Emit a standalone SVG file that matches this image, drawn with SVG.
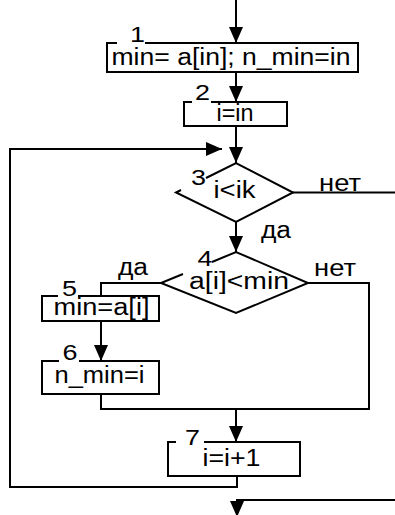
<svg xmlns="http://www.w3.org/2000/svg" width="395" height="515" viewBox="0 0 395 515">
<style>
.s{fill:none;stroke:#000;stroke-width:2}
.t{font-family:"Liberation Sans",Arial,sans-serif;font-size:23px;fill:#000}
.n{font-family:"Liberation Sans",Arial,sans-serif;font-size:22px;fill:#000}
.a{marker-end:url(#ah)}
</style>
<defs>
<marker id="ah" viewBox="0 0 16 14" refX="16" refY="7" markerWidth="16" markerHeight="14" orient="auto" markerUnits="userSpaceOnUse">
<path d="M0,0 L16,7 L0,14 z" fill="#000"/>
</marker>
</defs>
<rect width="395" height="515" fill="#fff"/>
<g id="connectors">
<path class="s a" d="M236,0 V43"/>
<path class="s a" d="M236,72 V102"/>
<path class="s a" d="M236,126 V163"/>
<path class="s a" d="M236,222 V252"/>
<path class="s" d="M161,283 H101 V296"/>
<path class="s a" d="M101,321 V361"/>
<path class="s" d="M101,394 V409 H369 V283 H308"/>
<path class="s a" d="M236,409 V442"/>
<path class="s a" d="M237,476 V487 H10 V149 H222"/>
<path class="s" d="M293,192.5 H395"/>
<path class="s a" d="M395,500 H237 V517"/>
<text class="t" x="319" y="191" textLength="42" lengthAdjust="spacingAndGlyphs">нет</text>
<text class="t" x="261" y="238" textLength="30" lengthAdjust="spacingAndGlyphs">да</text>
<text class="t" x="314" y="276" textLength="42" lengthAdjust="spacingAndGlyphs">нет</text>
<text class="t" x="118" y="275" textLength="30" lengthAdjust="spacingAndGlyphs">да</text>
</g>
<g id="node1">
<path class="s" d="M117,43 H107 V72 H358 V43 H145"/>
<text class="n" x="130" y="42" textLength="15" lengthAdjust="spacingAndGlyphs">1</text>
<text class="t" x="111.5" y="65" textLength="239" lengthAdjust="spacingAndGlyphs">min= a[in]; n_min=in</text>
</g>
<g id="node2">
<path class="s" d="M192,102 H184 V126 H287 V102 H211"/>
<text class="n" x="195" y="100" textLength="15" lengthAdjust="spacingAndGlyphs">2</text>
<text class="t" x="216.5" y="121" textLength="37" lengthAdjust="spacingAndGlyphs">i=in</text>
</g>
<g id="node3">
<path class="s" d="M206,178 L236,163 L293,192.5 L236,222 L176,192.5 L181,190"/>
<text class="n" x="191" y="185" textLength="15" lengthAdjust="spacingAndGlyphs">3</text>
<text class="t" x="213.5" y="198" textLength="42" lengthAdjust="spacingAndGlyphs">i&lt;ik</text>
</g>
<g id="node4">
<path class="s" d="M212,262 L236,252 L308,283 L236,313 L161,283 L183,274"/>
<text class="n" x="197.5" y="266" textLength="15" lengthAdjust="spacingAndGlyphs">4</text>
<text class="t" x="189" y="289" textLength="100" lengthAdjust="spacingAndGlyphs">a[i]&lt;min</text>
</g>
<g id="node5">
<path class="s" d="M58,296 H42 V321 H159 V296 H78"/>
<text class="n" x="62" y="296" textLength="15" lengthAdjust="spacingAndGlyphs">5</text>
<text class="t" x="53.5" y="315" textLength="96" lengthAdjust="spacingAndGlyphs">min=a[i]</text>
</g>
<g id="node6">
<path class="s" d="M59,361 H42 V394 H159 V361 H79"/>
<text class="n" x="62.5" y="360" textLength="15" lengthAdjust="spacingAndGlyphs">6</text>
<text class="t" x="54.5" y="383" textLength="90" lengthAdjust="spacingAndGlyphs">n_min=i</text>
</g>
<g id="node7">
<path class="s" d="M176,442 H168 V476 H300 V442 H204"/>
<text class="n" x="185" y="445" textLength="15" lengthAdjust="spacingAndGlyphs">7</text>
<text class="t" x="202.5" y="466" textLength="58" lengthAdjust="spacingAndGlyphs">i=i+1</text>
</g>
</svg>
